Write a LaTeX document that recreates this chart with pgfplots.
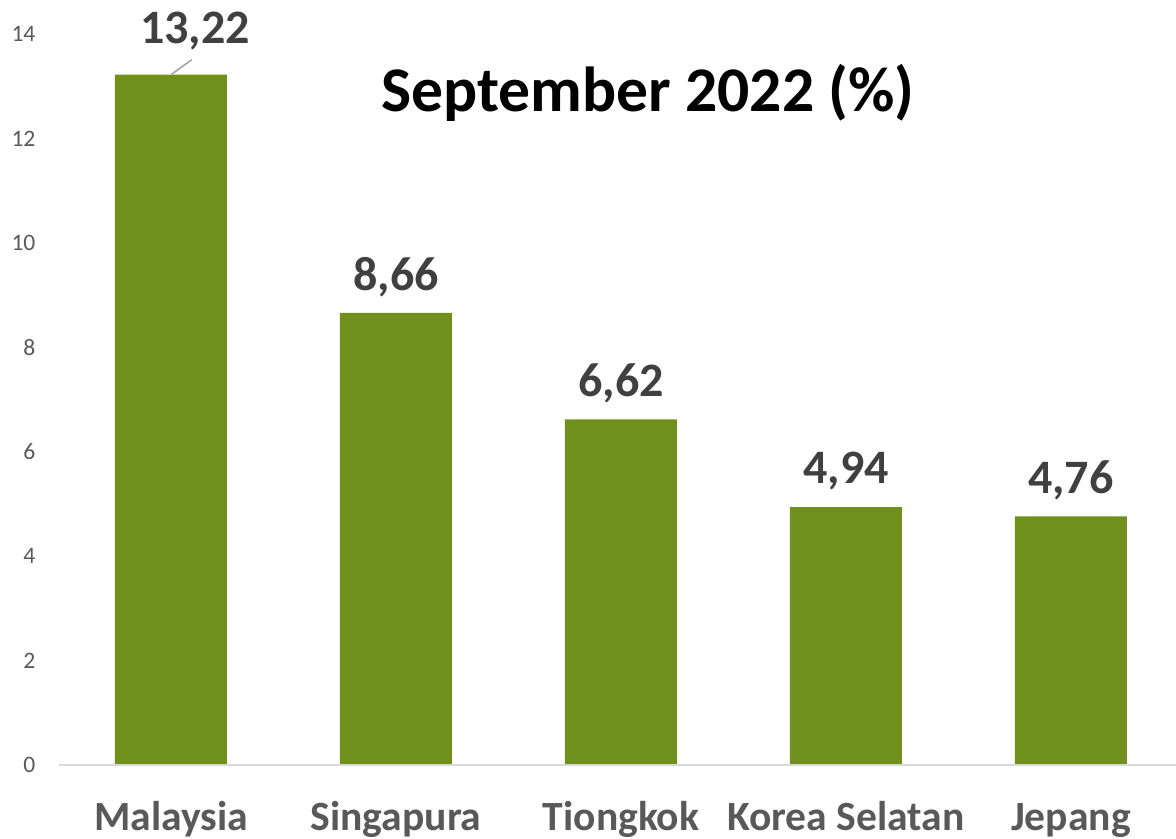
\documentclass[border=0pt]{standalone}
\usepackage{pgfplots}
\pgfplotsset{compat=1.18}
\usepackage{fontspec}
\setmainfont{Carlito}
\usetikzlibrary{calc}
\definecolor{bargreen}{RGB}{111,144,26}
\definecolor{lbl}{RGB}{64,64,64}
\definecolor{cat}{RGB}{89,89,89}
\definecolor{base}{RGB}{217,217,217}
\begin{document}
\begin{tikzpicture}
\begin{axis}[
  name=ax,
  scale only axis,
  width=558.75pt, height=365.5pt,
  xmin=-0.5, xmax=4.467,
  ymin=0, ymax=14,
  ytick={0,2,...,14},
  xtick={0,1,2,3,4},
  xticklabels={Malaysia,Singapura,Tiongkok,Korea Selatan,Jepang},
  axis line style={draw=none},
  major tick length=0pt,
  /pgf/number format/assume math mode=true,
  yticklabel style={font=\fontsize{11.8pt}{14pt}\selectfont, text=cat, xshift=-8pt},
  xticklabel style={font=\fontsize{20.8pt}{24pt}\selectfont\bfseries, text=cat, anchor=base, yshift=-32.5pt},
  clip=false,
  nodes near coords,
  every node near coord/.append style={font=\fontsize{24pt}{28pt}\selectfont\bfseries, text=lbl, anchor=center, yshift=18pt},
  nodes near coords={\pgfmathprintnumber[fixed, precision=2, fixed zerofill, use comma]{\pgfplotspointmeta}},
]
\addplot[ybar, bar width=56pt, fill=bargreen, draw=none,
  coordinate style/.condition={x==0}{yshift=4pt, xshift=12pt}]
  coordinates {(0,13.22) (1,8.66) (2,6.62) (3,4.94) (4,4.76)};
\draw[base, line width=1pt] (axis cs:-0.5,0) -- (axis cs:4.467,0);
\draw[gray!70, line width=0.8pt] (axis cs:0,13.22) -- (axis cs:0.093,13.51);
\node[font=\fontsize{31.8pt}{36pt}\selectfont\bfseries, text=black] at (axis cs:2.12,12.87) {September 2022 (\%)};
\end{axis}
\pgfresetboundingbox
\path[use as bounding box] ($(ax.south west)+(-29.25pt,-37pt)$) rectangle ($(ax.north east)+(0pt,17pt)$);
\end{tikzpicture}
\end{document}
